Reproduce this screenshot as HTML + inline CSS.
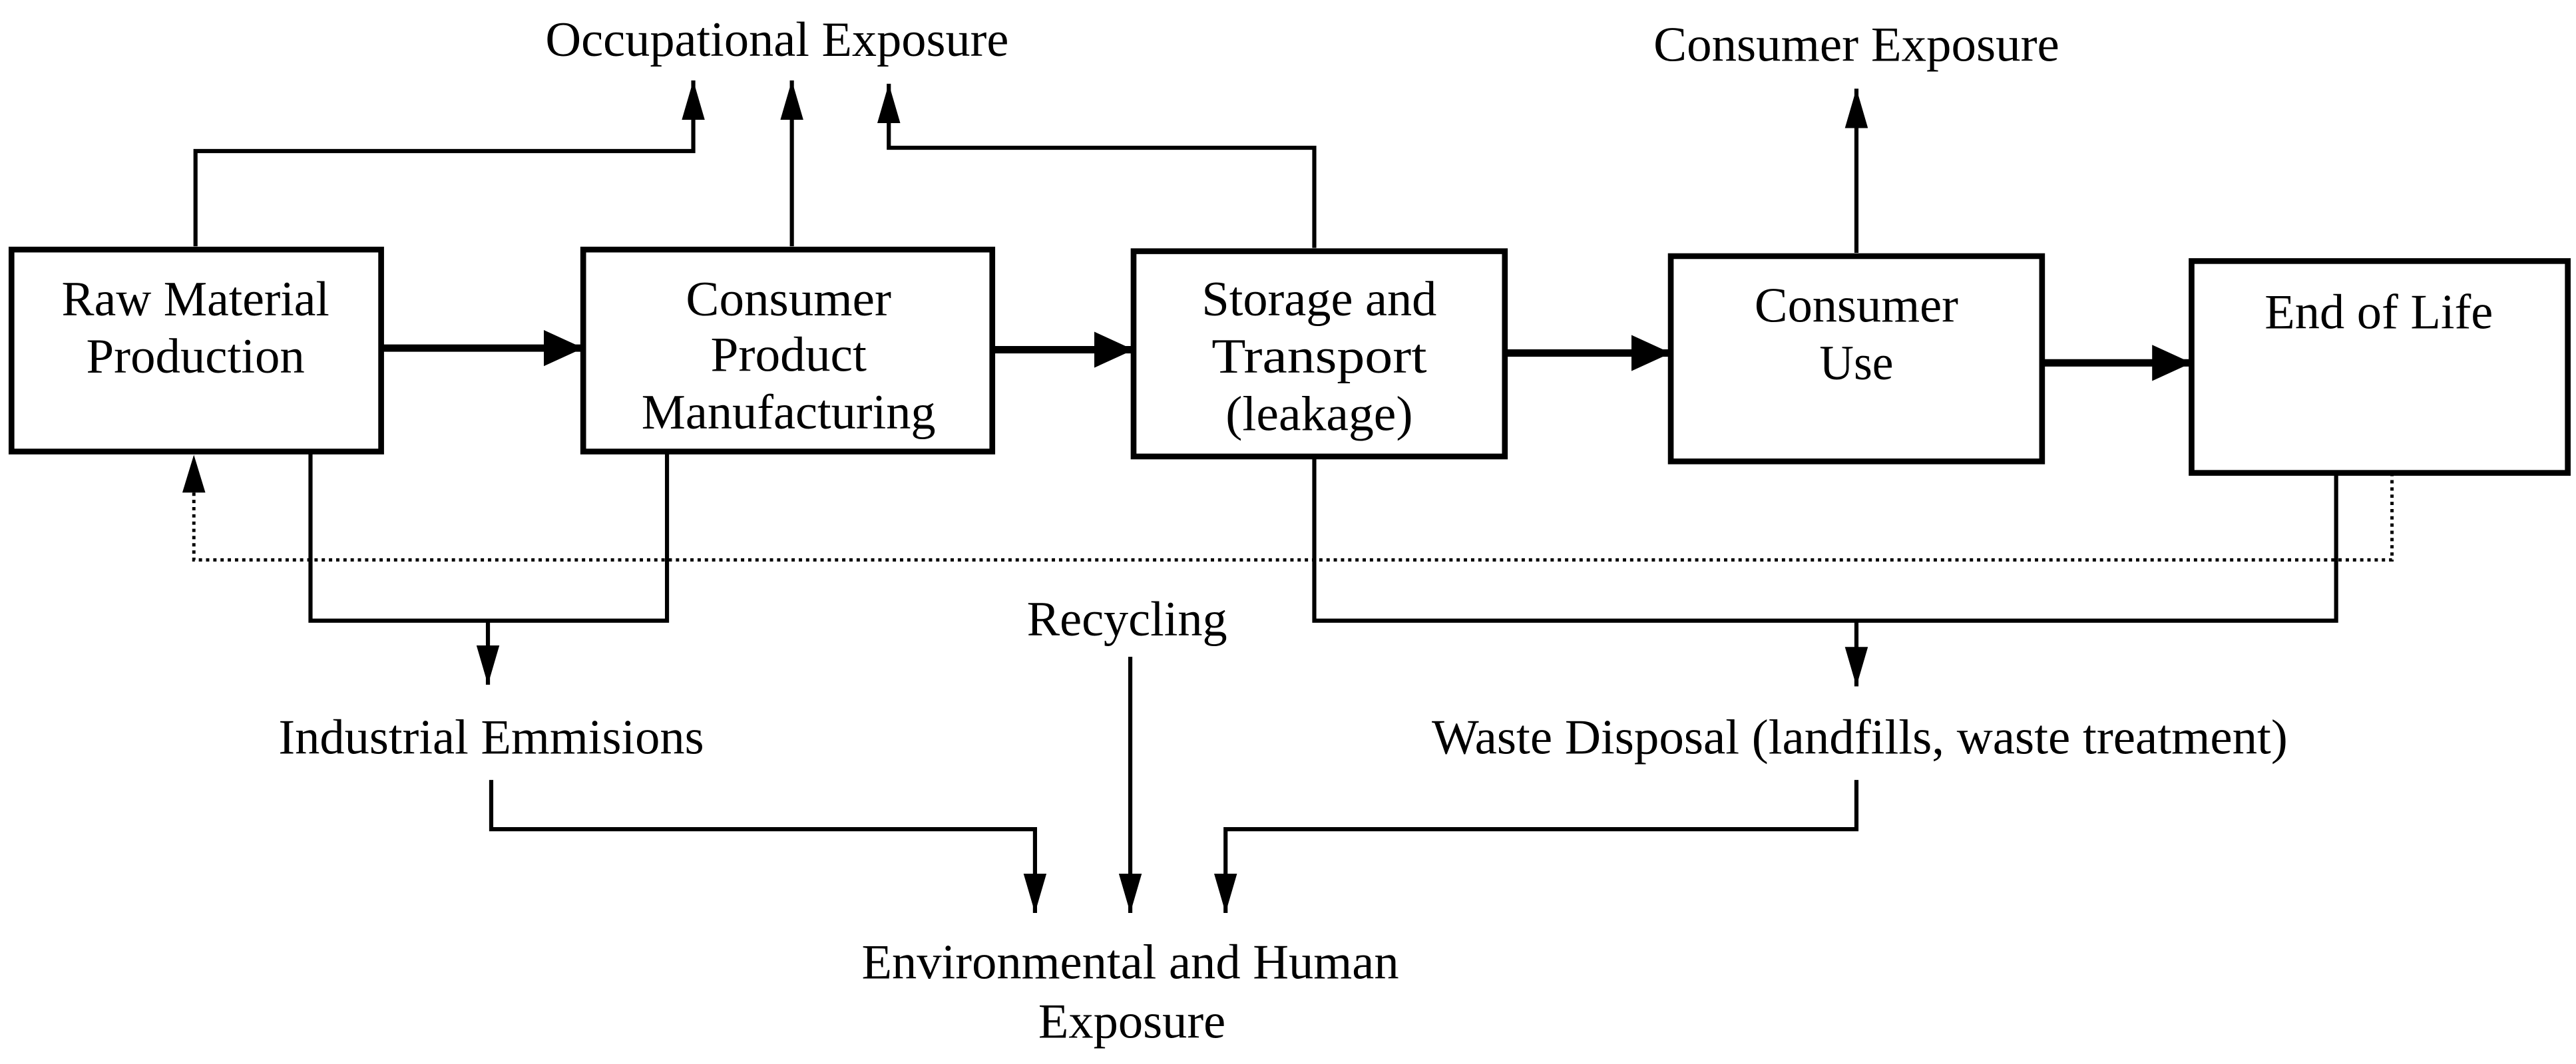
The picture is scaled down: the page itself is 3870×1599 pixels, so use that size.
<!DOCTYPE html>
<html><head><meta charset="utf-8"><style>
html,body{margin:0;padding:0;background:#fff;}
svg{display:block;}
text{font-family:"Liberation Serif",serif;font-size:30px;fill:#000;}
</style></head><body>
<svg width="3870" height="1599" viewBox="0 0 1568 648" preserveAspectRatio="none" xmlns="http://www.w3.org/2000/svg">
<defs>
<marker id="a" viewBox="0 0 24 22" refX="24" refY="11" markerWidth="24" markerHeight="22" orient="auto" markerUnits="userSpaceOnUse"><path d="M0,0L24,11L0,22z" fill="#000"/></marker>
<marker id="b" viewBox="0 0 24 14" refX="24" refY="7" markerWidth="24" markerHeight="14" orient="auto" markerUnits="userSpaceOnUse"><path d="M0,0L24,7L0,14z" fill="#000"/></marker>
</defs>
<g fill="none" stroke="#000" stroke-width="3.5">
<rect x="7" y="152" width="225" height="123"/>
<rect x="355" y="152" width="249" height="123"/>
<rect x="690" y="153" width="226" height="125"/>
<rect x="1017" y="156" width="226" height="125"/>
<rect x="1334" y="159" width="229" height="129"/>
</g>
<g fill="none" stroke="#000" stroke-width="4.5" marker-end="url(#a)">
<line x1="232" y1="212" x2="355" y2="212"/>
<line x1="604" y1="213" x2="690" y2="213"/>
<line x1="916" y1="215" x2="1017" y2="215"/>
<line x1="1243" y1="221" x2="1334" y2="221"/>
</g>
<g fill="none" stroke="#000" stroke-width="2.5" marker-end="url(#b)">
<polyline points="119,150 119,92 422,92 422,49"/>
<line x1="482" y1="150" x2="482" y2="49"/>
<polyline points="800,151 800,90 541,90 541,51"/>
<line x1="1130" y1="154" x2="1130" y2="54"/>
<line x1="297" y1="378" x2="297" y2="417"/>
<line x1="1130" y1="378" x2="1130" y2="418"/>
<line x1="688" y1="400" x2="688" y2="556"/>
<polyline points="299,475 299,505 630,505 630,556"/>
<polyline points="1130,475 1130,505 746,505 746,556"/>
</g>
<g fill="none" stroke="#000" stroke-width="2.5">
<polyline points="189,275 189,378 406,378 406,275"/>
<polyline points="800,278 800,378 1422,378 1422,288"/>
</g>
<polyline points="1456,288 1456,341 118,341 118,298" fill="none" stroke="#000" stroke-width="2" stroke-dasharray="2,2.4"/>
<path d="M118,277 L111,300 L125,300z" fill="#000"/>
<g text-anchor="middle">
<text x="119" y="192" textLength="163" lengthAdjust="spacingAndGlyphs">Raw Material</text>
<text x="119" y="227" textLength="133" lengthAdjust="spacingAndGlyphs">Production</text>
<text x="480" y="192" textLength="125" lengthAdjust="spacingAndGlyphs">Consumer</text>
<text x="480" y="226" textLength="95" lengthAdjust="spacingAndGlyphs">Product</text>
<text x="480" y="261" textLength="179" lengthAdjust="spacingAndGlyphs">Manufacturing</text>
<text x="803" y="192" textLength="143" lengthAdjust="spacingAndGlyphs">Storage and</text>
<text x="803" y="227" textLength="131" lengthAdjust="spacingAndGlyphs">Transport</text>
<text x="803" y="262" textLength="114" lengthAdjust="spacingAndGlyphs">(leakage)</text>
<text x="1130" y="196" textLength="124" lengthAdjust="spacingAndGlyphs">Consumer</text>
<text x="1130" y="231" textLength="45" lengthAdjust="spacingAndGlyphs">Use</text>
<text x="1448" y="200" textLength="139" lengthAdjust="spacingAndGlyphs">End of Life</text>
<text x="473" y="34" textLength="282" lengthAdjust="spacingAndGlyphs">Occupational Exposure</text>
<text x="1130" y="37" textLength="247" lengthAdjust="spacingAndGlyphs">Consumer Exposure</text>
<text x="299" y="459" textLength="259" lengthAdjust="spacingAndGlyphs">Industrial Emmisions</text>
<text x="686" y="387" textLength="122" lengthAdjust="spacingAndGlyphs">Recycling</text>
<text x="1132" y="459" textLength="521" lengthAdjust="spacingAndGlyphs">Waste Disposal (landfills, waste treatment)</text>
<text x="688" y="596" textLength="327" lengthAdjust="spacingAndGlyphs">Environmental and Human</text>
<text x="689" y="632" textLength="114" lengthAdjust="spacingAndGlyphs">Exposure</text>
</g>
</svg>
</body></html>
